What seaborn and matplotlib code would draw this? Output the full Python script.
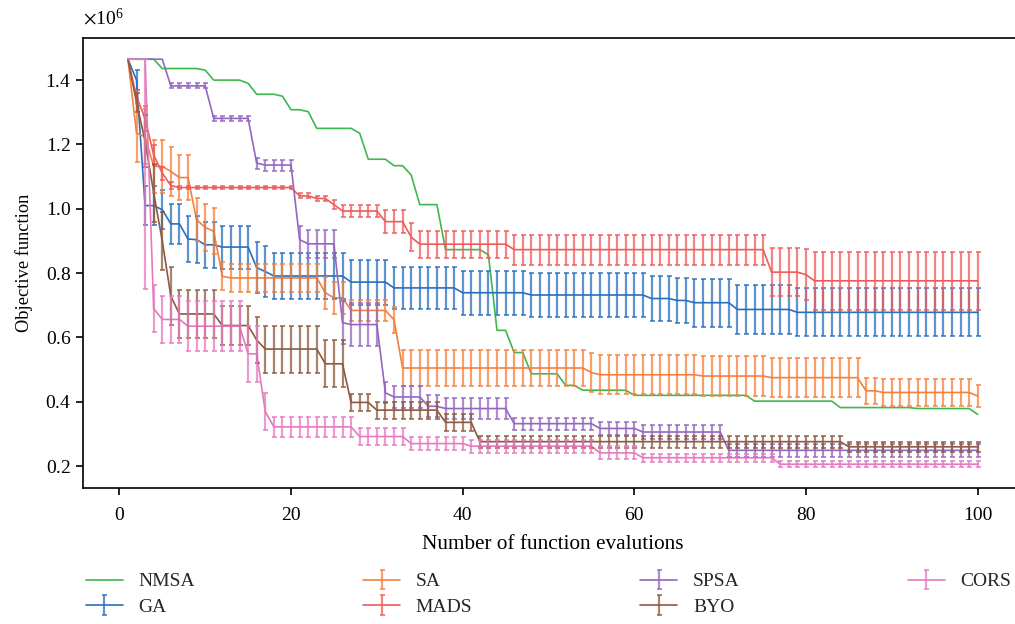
import numpy as np
import pandas as pd
import matplotlib
matplotlib.use("Agg")
import matplotlib.pyplot as plt
import seaborn as sns
from matplotlib.ticker import ScalarFormatter
from matplotlib.lines import Line2D
from matplotlib.legend_handler import HandlerTuple

# ---------------- data (objective values in units of 1e6) ----------------
evals = np.arange(1, 101)
methods = ["NMSA", "GA", "SA", "MADS", "SPSA", "BYO", "CORS"]
colors = {"NMSA": "#3cb850", "GA": "#2a6fbd", "SA": "#f5803e",
          "MADS": "#ee5b5b", "SPSA": "#9467bd", "BYO": "#8c5a3e",
          "CORS": "#e57ac0"}

# step values: (level, number of consecutive evaluations)
nmsa_levels = [1.465, 1.436, 1.431, 1.400, 1.390, 1.356, 1.350, 1.308, 1.302, 1.250,
               1.235, 1.154, 1.134, 1.105, 1.013, 0.873, 0.857, 0.622, 0.553, 0.487,
               0.451, 0.436, 0.420, 0.402, 0.382, 0.379, 0.361]
nmsa_runs = [4, 5, 1, 4, 1, 3, 1, 2, 1, 5, 1, 3, 2, 1, 3, 5, 1, 2, 2, 4, 2, 6, 14, 10, 9, 7, 1]

ga_levels = [1.465, 1.400, 1.010, 0.997, 0.953, 0.906, 0.904, 0.888, 0.881, 0.817,
             0.805, 0.791, 0.772, 0.754, 0.739, 0.732, 0.721, 0.715, 0.708, 0.687, 0.678]
ga_runs = [1, 1, 2, 1, 2, 1, 1, 2, 4, 1, 1, 9, 5, 8, 8, 14, 3, 2, 5, 7, 22]
ga_err = [0.0, 0.030, 0.060, 0.061, 0.072, 0.071, 0.067, 0.080, 0.072, 0.070,
          0.066, 0.069, 0.071, 0.075]
ga_err_runs = [1, 1, 3, 2, 2, 2, 4, 2, 9, 5, 8, 22, 5, 34]

sa_levels = [1.465, 1.235, 1.224, 1.132, 1.116, 1.097, 0.966, 0.942, 0.930, 0.790,
             0.785, 0.739, 0.723, 0.684, 0.655, 0.505, 0.491, 0.484, 0.480, 0.475,
             0.434, 0.429, 0.418]
sa_runs = [1, 1, 1, 2, 1, 2, 1, 1, 1, 1, 11, 1, 2, 5, 1, 22, 1, 12, 8, 11, 2, 11, 1]
sa_err = [0.0, 0.090, 0.085, 0.083, 0.077, 0.070, 0.067, 0.072, 0.044, 0.050,
          0.032, 0.040, 0.057, 0.061, 0.041, 0.034]
sa_err_runs = [1, 1, 1, 2, 1, 2, 1, 2, 12, 3, 5, 1, 22, 32, 13, 1]

mads_levels = [1.465, 1.348, 1.281, 1.167, 1.111, 1.072, 1.066, 1.040, 1.032, 1.013,
               0.993, 0.960, 0.912, 0.890, 0.873, 0.803, 0.795, 0.776]
mads_runs = [1, 1, 1, 1, 1, 1, 14, 2, 2, 1, 5, 3, 1, 11, 30, 4, 1, 20]
mads_err = [0.0, 0.020, 0.040, 0.030, 0.020, 0.010, 0.005, 0.008, 0.015, 0.020,
            0.035, 0.044, 0.042, 0.047, 0.075, 0.080, 0.090]
mads_err_runs = [1, 1, 1, 1, 1, 1, 14, 4, 1, 5, 3, 1, 11, 30, 4, 1, 20]

spsa_levels = [1.465, 1.382, 1.281, 1.142, 1.136, 0.904, 0.891, 0.646, 0.640, 0.428,
               0.415, 0.386, 0.379, 0.332, 0.317, 0.306, 0.249]
spsa_runs = [5, 5, 5, 1, 4, 1, 4, 1, 4, 1, 4, 2, 8, 10, 5, 10, 30]
spsa_err = [0.0, 0.008, 0.017, 0.043, 0.066, 0.033, 0.034, 0.019, 0.021]
spsa_err_runs = [5, 10, 5, 5, 5, 5, 10, 10, 45]

byo_levels = [1.465, 1.330, 1.210, 1.050, 0.900, 0.728, 0.673, 0.637, 0.592, 0.564,
              0.518, 0.398, 0.374, 0.336, 0.276, 0.260]
byo_runs = [1, 1, 1, 1, 1, 1, 5, 4, 1, 7, 3, 3, 8, 4, 43, 16]
byo_err = [0.0, 0.030, 0.080, 0.090, 0.076, 0.060, 0.073, 0.026, 0.019, 0.015]
byo_err_runs = [1, 1, 1, 3, 5, 4, 11, 15, 43, 16]

cors_levels = [1.465, 0.690, 0.656, 0.635, 0.549, 0.370, 0.322, 0.292, 0.270, 0.262,
               0.241, 0.226, 0.206]
cors_runs = [3, 1, 3, 7, 2, 1, 10, 6, 7, 15, 5, 16, 24]
cors_err_low = [0.0, 0.715, 0.072, 0.074, 0.078, 0.086, 0.057, 0.031, 0.026, 0.020,
                0.013, 0.010]
cors_err_high = [0.0, 0.0, 0.072, 0.074, 0.078, 0.086, 0.057, 0.031, 0.026, 0.020,
                 0.013, 0.010]
cors_err_runs = [2, 1, 1, 3, 7, 2, 1, 10, 6, 27, 16, 24]

# ---------------- assemble ----------------
def steps(levels, runs):
    return np.repeat(np.array(levels, float), runs) * 1e6

means = {
    "NMSA": steps(nmsa_levels, nmsa_runs),
    "GA": steps(ga_levels, ga_runs),
    "SA": steps(sa_levels, sa_runs),
    "MADS": steps(mads_levels, mads_runs),
    "SPSA": steps(spsa_levels, spsa_runs),
    "BYO": steps(byo_levels, byo_runs),
    "CORS": steps(cors_levels, cors_runs),
}
errs = {
    "GA": (steps(ga_err, ga_err_runs), steps(ga_err, ga_err_runs)),
    "SA": (steps(sa_err, sa_err_runs), steps(sa_err, sa_err_runs)),
    "MADS": (steps(mads_err, mads_err_runs), steps(mads_err, mads_err_runs)),
    "SPSA": (steps(spsa_err, spsa_err_runs), steps(spsa_err, spsa_err_runs)),
    "BYO": (steps(byo_err, byo_err_runs), steps(byo_err, byo_err_runs)),
    "CORS": (steps(cors_err_low, cors_err_runs), steps(cors_err_high, cors_err_runs)),
}

df = pd.concat([pd.DataFrame({"evals": evals, "value": means[m], "method": m})
                for m in methods], ignore_index=True)

# ---------------- style ----------------
sns.set_theme(style="ticks")
plt.rcParams["font.family"] = ["Liberation Serif", "DejaVu Serif"]
plt.rcParams["mathtext.fontset"] = "stix"
plt.rcParams["axes.linewidth"] = 1.2
plt.rcParams["xtick.major.width"] = 1.2
plt.rcParams["ytick.major.width"] = 1.2
plt.rcParams["xtick.major.size"] = 5
plt.rcParams["ytick.major.size"] = 5
FS = 14

fig = plt.figure(figsize=(10.15, 6.24), dpi=100)
ax = fig.add_axes([83.3 / 1015, (624 - 488.3) / 624, 939 / 1015, 450 / 624])

sns.lineplot(data=df, x="evals", y="value", hue="method", hue_order=methods,
             palette=colors, errorbar=None, legend=False, linewidth=1.2, ax=ax)

containers = {}
for m in methods[1:]:
    lo, hi = errs[m]
    mask = (lo + hi) > 0
    c = ax.errorbar(evals[mask], means[m][mask], yerr=[lo[mask], hi[mask]],
                    fmt="none", ecolor=colors[m], elinewidth=1.6, capsize=1.8,
                    capthick=1.4, alpha=0.75)
    containers[m] = c

ax.set_xlim(-4.2, 105.2)
ax.set_ylim(0.131e6, 1.530e6)
ax.set_xticks([0, 20, 40, 60, 80, 100])
ax.set_yticks([0.2e6, 0.4e6, 0.6e6, 0.8e6, 1.0e6, 1.2e6, 1.4e6])
fmt = ScalarFormatter(useMathText=True)
fmt.set_powerlimits((0, 0))
ax.yaxis.set_major_formatter(fmt)
ax.yaxis.get_offset_text().set_fontsize(FS)
ax.yaxis.OFFSETTEXTPAD = 9.5
ax.tick_params(labelsize=FS, colors="black")
ax.tick_params(axis="x", pad=8.5)
ax.set_xlabel("Number of function evalutions", fontsize=15.3, color="black", labelpad=8)
ax.set_ylabel("Objective function", fontsize=13.2, color="black", labelpad=9)
for s in ax.spines.values():
    s.set_color("black")

handles = []
for m in methods:
    ln = Line2D([], [], color=colors[m], linewidth=1.2)
    if m in containers:
        handles.append((ln, containers[m]))
    else:
        handles.append(ln)
fig.legend(handles, methods, loc="upper left", bbox_to_anchor=(78 / 1015, 1 - 565 / 624),
           ncol=4, frameon=False, fontsize=FS, handlelength=1.9, handletextpad=0.8,
           columnspacing=8.65, labelspacing=0.4, borderaxespad=0,
           handler_map={tuple: HandlerTuple(ndivide=1)})

fig.savefig("out.png", dpi=100)
